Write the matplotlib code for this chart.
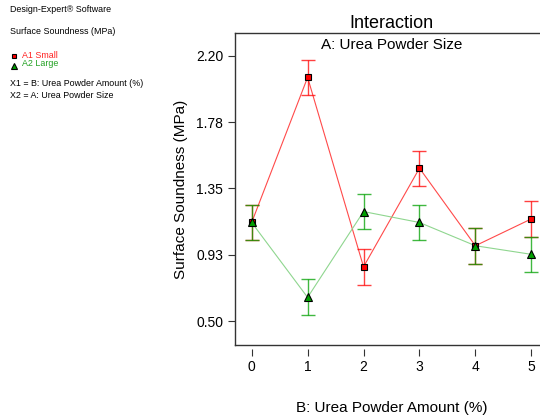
import numpy as np
import matplotlib.pyplot as plt
from matplotlib.lines import Line2D

plt.rcParams['font.family'] = ['Liberation Sans', 'DejaVu Sans']

amount = [0, 1, 2, 3, 4, 5]
small = [1.132, 2.062, 0.848, 1.480, 0.983, 1.155]
small_err = [0.115, 0.114, 0.116, 0.113, 0.115, 0.115]
large = [1.132, 0.652, 1.202, 1.132, 0.983, 0.928]
large_err = [0.115, 0.115, 0.114, 0.115, 0.115, 0.114]
yticks = [0.50, 0.925, 1.35, 1.775, 2.20]
ytick_labels = ["0.50", "0.93", "1.35", "1.78", "2.20"]


def main():
    fig = plt.figure(figsize=(5.4, 4.17), dpi=100)
    ax = fig.add_axes([0.435, 0.1727, 0.58, 0.748])

    ax.plot(amount, small, color='#ff4a4a', lw=0.8, zorder=2)
    ax.plot(amount, large, color='#8fd68f', lw=0.8, zorder=2)
    ax.errorbar(amount, small, yerr=small_err, fmt='none', ecolor='#ff0000',
                elinewidth=1.0, capsize=5, capthick=1.0, alpha=0.75, zorder=3)
    ax.errorbar(amount, large, yerr=large_err, fmt='none', ecolor='#00a000',
                elinewidth=1.0, capsize=5, capthick=1.0, alpha=0.75, zorder=3)
    ax.plot(amount, small, ls='none', marker='s', ms=4.5, mfc='#ff0000',
            mec='black', mew=0.8, zorder=4)
    ax.plot(amount, large, ls='none', marker='^', ms=5.5, mfc='#00a000',
            mec='black', mew=0.8, zorder=5)

    ax.set_xlim(-0.3, 5.3)
    ax.set_ylim(0.347, 2.346)
    ax.set_xticks(amount)
    ax.set_yticks(yticks)
    ax.set_yticklabels(ytick_labels)
    ax.tick_params(axis='both', labelsize=10, length=5, width=0.8,
                   color='#333333', direction='out')
    ax.tick_params(axis='x', pad=3)

    # detached x ticks, frame drawn separately
    ax.spines['bottom'].set_position(('outward', 3))
    ax.spines['bottom'].set_visible(False)
    ax.spines['right'].set_visible(False)
    for s in ['left', 'top']:
        ax.spines[s].set_linewidth(1.0)
        ax.spines[s].set_color('#333333')
    ax.add_line(Line2D([0, 1], [0, 0], transform=ax.transAxes, color='#333333',
                       lw=1.0, clip_on=False))

    ax.set_xlabel("B: Urea Powder Amount (%)", fontsize=11, labelpad=19)
    ax.set_ylabel("Surface Soundness (MPa)", fontsize=11, labelpad=6)
    ax.text(0.5, 1.004, "Interaction", transform=ax.transAxes, ha='center',
            va='bottom', fontsize=13)
    ax.text(0.5, 0.985, "A: Urea Powder Size", transform=ax.transAxes,
            ha='center', va='top', fontsize=11)

    # side notes
    fs = 6.4
    fig.text(10 / 540, 1 - 10 / 417, "Design-Expert\u00ae Software", fontsize=fs,
             va='center')
    fig.text(10 / 540, 1 - 32 / 417, "Surface Soundness (MPa)", fontsize=fs,
             va='center')
    fig.lines.append(Line2D([14 / 540], [1 - 56 / 417], transform=fig.transFigure,
                            marker='s', ms=3.5, mfc='#ff0000', mec='black', mew=0.8))
    fig.lines.append(Line2D([14 / 540], [1 - 65.5 / 417], transform=fig.transFigure,
                            marker='^', ms=4, mfc='#00a000', mec='black', mew=0.8))
    fig.text(22 / 540, 1 - 55 / 417, "A1 Small", fontsize=fs, color='#ff2020',
             va='center')
    fig.text(22 / 540, 1 - 64 / 417, "A2 Large", fontsize=fs, color='#20a020',
             va='center')
    fig.text(10 / 540, 1 - 84 / 417, "X1 = B: Urea Powder Amount (%)", fontsize=fs,
             va='center')
    fig.text(10 / 540, 1 - 95 / 417, "X2 = A: Urea Powder Size", fontsize=fs,
             va='center')

    fig.savefig("out.png", dpi=100)


if __name__ == "__main__":
    main()
